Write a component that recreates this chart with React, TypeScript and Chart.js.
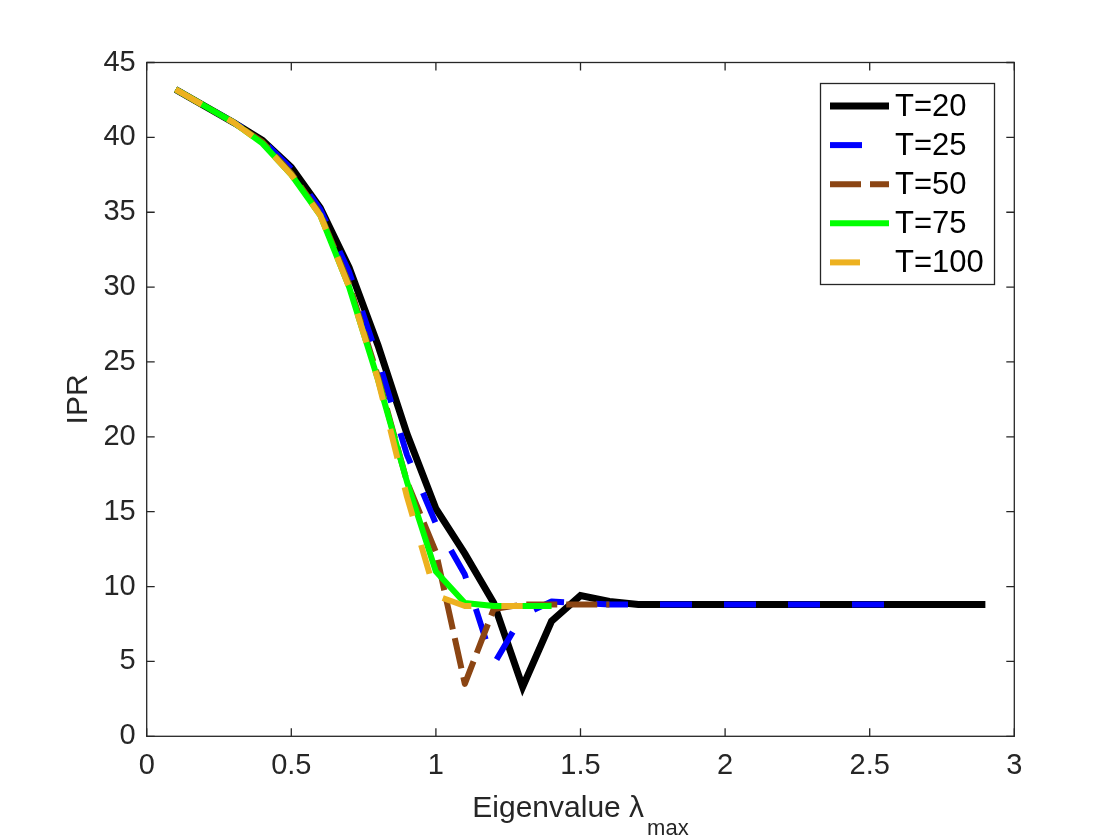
import { useEffect, useRef } from 'react';
import { Chart, registerables } from 'chart.js';

Chart.register(...registerables);

const FONT = '"Liberation Sans", Helvetica, Arial, sans-serif';
const INK = '#262626';

// eigenvalue grid shared by every run (runs stop at different points)
const lambda = [
  0.1, 0.2, 0.3, 0.4, 0.5, 0.6, 0.7, 0.8, 0.9, 1.0, 1.1, 1.2, 1.3, 1.4, 1.5,
  1.6, 1.7, 1.8, 1.9, 2.0, 2.1, 2.2, 2.3, 2.4, 2.5, 2.6, 2.7, 2.8, 2.9,
];

const ipr20 = [
  43.2, 42.1, 41.0, 39.8, 38.0, 35.3, 31.3, 26.1, 20.2, 15.2, 12.2, 8.9, 3.3, 7.7, 9.4,
  9.0, 8.8, 8.8, 8.8, 8.8, 8.8, 8.8, 8.8, 8.8, 8.8, 8.8, 8.8, 8.8, 8.8,
];
const ipr25 = [
  43.2, 42.1, 41.0, 39.8, 37.9, 35.2, 31.0, 25.2, 18.8, 14.2, 10.8, 4.8, 8.1, 9.0, 8.9,
  8.8, 8.8, 8.8, 8.8, 8.8, 8.8, 8.8, 8.8, 8.8, 8.8, 8.8,
];
const ipr50 = [
  43.2, 42.1, 41.0, 39.7, 37.6, 34.9, 30.2, 24.0, 17.0, 12.3, 3.5, 8.5, 8.8, 8.8, 8.8, 8.8,
];
const ipr75 = [43.2, 42.1, 41.0, 39.6, 37.5, 34.8, 30.0, 23.8, 17.0, 11.0, 8.9, 8.7, 8.7, 8.7];
const ipr100 = [43.2, 42.1, 41.0, 39.6, 37.5, 34.8, 30.0, 23.8, 16.0, 9.4, 8.7, 8.7, 8.7];

const seriesLabels = ['T=20', 'T=25', 'T=50', 'T=75', 'T=100'];
const seriesValues = [ipr20, ipr25, ipr50, ipr75, ipr100];

const xTicks = [0, 0.5, 1, 1.5, 2, 2.5, 3];
const yTicks = [0, 5, 10, 15, 20, 25, 30, 35, 40, 45];

// styling per series
const colors = ['#000000', '#0000ff', '#8b4513', '#00ff00', '#edb120'];
const dashes = [[], [32, 32], [31, 9], [], [30, 30]];
const dashOffsets = [0, 19, 0, 0, 0];
const widths = [7, 6, 6, 6, 6];

const matlabFrame = {
  id: 'matlabFrame',
  afterDraw(chart: any) {
    const { ctx, chartArea: a, scales } = chart;
    ctx.save();

    // box and inward ticks on all four sides
    ctx.strokeStyle = INK;
    ctx.lineWidth = 1.3;
    ctx.strokeRect(a.left, a.top, a.right - a.left, a.bottom - a.top);
    ctx.beginPath();
    for (const v of xTicks) {
      const px = scales.x.getPixelForValue(v);
      ctx.moveTo(px, a.bottom);
      ctx.lineTo(px, a.bottom - 8);
      ctx.moveTo(px, a.top);
      ctx.lineTo(px, a.top + 8);
    }
    for (const v of yTicks) {
      const py = scales.y.getPixelForValue(v);
      ctx.moveTo(a.left, py);
      ctx.lineTo(a.left + 8, py);
      ctx.moveTo(a.right, py);
      ctx.lineTo(a.right - 8, py);
    }
    ctx.stroke();

    // x title with subscript
    ctx.fillStyle = INK;
    ctx.textBaseline = 'alphabetic';
    ctx.textAlign = 'left';
    const main = 'Eigenvalue \u03bb';
    const sub = 'max';
    ctx.font = `30px ${FONT}`;
    const w1 = ctx.measureText(main).width;
    ctx.font = `22px ${FONT}`;
    const w2 = ctx.measureText(sub).width;
    const cx = (a.left + a.right) / 2;
    const x0 = cx - (w1 + 3 + w2) / 2;
    ctx.font = `30px ${FONT}`;
    ctx.fillText(main, x0, 817);
    ctx.font = `22px ${FONT}`;
    ctx.fillText(sub, x0 + w1 + 3, 835);

    // y title
    ctx.save();
    ctx.translate(86.5, (a.top + a.bottom) / 2);
    ctx.rotate(-Math.PI / 2);
    ctx.textAlign = 'center';
    ctx.font = `30px ${FONT}`;
    ctx.fillText('IPR', 0, 0);
    ctx.restore();

    // legend box
    const lx = 820.5;
    const ly = 83.5;
    ctx.fillStyle = '#ffffff';
    ctx.fillRect(lx, ly, 174, 201);
    ctx.strokeStyle = INK;
    ctx.lineWidth = 1.3;
    ctx.strokeRect(lx, ly, 174, 201);
    ctx.font = `31px ${FONT}`;
    ctx.textBaseline = 'middle';
    ctx.textAlign = 'left';
    chart.data.datasets.forEach((ds: any, i: number) => {
      const y = 106 + i * 39.1;
      ctx.beginPath();
      ctx.strokeStyle = ds.borderColor;
      ctx.lineWidth = ds.borderWidth;
      ctx.setLineDash(ds.borderDash);
      ctx.moveTo(830, y);
      ctx.lineTo(889, y);
      ctx.stroke();
      ctx.setLineDash([]);
      ctx.fillStyle = '#000000';
      ctx.fillText(ds.label, 895, y + 1);
    });

    ctx.restore();
  },
};

export default function App() {
  const canvasRef = useRef<HTMLCanvasElement>(null);

  useEffect(() => {
    if (!canvasRef.current) return;
    const ctx = canvasRef.current.getContext('2d');
    if (!ctx) return;

    const tickFont = { family: FONT, size: 29 };

    const chart = new Chart(ctx, {
      type: 'line',
      data: {
        datasets: seriesLabels.map((label, s) => ({
          label,
          data: seriesValues[s].map((y, i) => ({ x: lambda[i], y })),
          borderColor: colors[s],
          backgroundColor: colors[s],
          borderWidth: widths[s],
          borderDash: dashes[s],
          borderDashOffset: dashOffsets[s],
          borderJoinStyle: s === 0 ? 'miter' : 'round',
          pointRadius: 0,
          tension: 0,
          fill: false,
          order: seriesLabels.length - 1 - s,
        })),
      },
      options: {
        responsive: false,
        animation: false,
        layout: { padding: { top: 62.5, right: 105.7, left: 0, bottom: 0 } },
        plugins: {
          legend: { display: false },
          tooltip: { enabled: false },
        },
        scales: {
          x: {
            type: 'linear',
            min: 0,
            max: 3,
            afterBuildTicks: (scale: any) => {
              scale.ticks = xTicks.map((value) => ({ value }));
            },
            afterFit: (scale: any) => {
              scale.height = 103.7;
            },
            ticks: {
              font: tickFont,
              color: INK,
              padding: 12,
              maxRotation: 0,
              callback: (v: any) => String(v),
            },
            grid: { display: false, drawTicks: false },
            border: { display: false },
          },
          y: {
            type: 'linear',
            min: 0,
            max: 45,
            afterBuildTicks: (scale: any) => {
              scale.ticks = yTicks.map((value) => ({ value }));
            },
            afterFit: (scale: any) => {
              scale.width = 146.7;
            },
            ticks: { font: tickFont, color: INK, padding: 11, callback: (v: any) => String(v) },
            grid: { display: false, drawTicks: false },
            border: { display: false },
          },
        },
      },
      plugins: [matlabFrame],
    });

    return () => chart.destroy();
  }, []);

  return (
    <div style={{ position: 'absolute', left: 0, top: 0, width: 1120, height: 840, background: '#fff' }}>
      <canvas ref={canvasRef} width={1120} height={840} />
    </div>
  );
}
